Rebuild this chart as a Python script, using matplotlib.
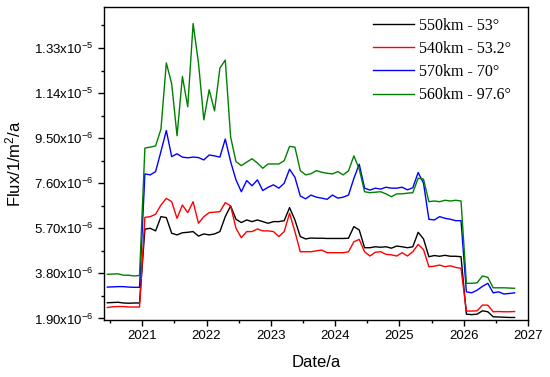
import numpy as np
import matplotlib
matplotlib.use('Agg')
import matplotlib.pyplot as plt
from matplotlib.ticker import FixedLocator, FuncFormatter, MultipleLocator

plt.rcParams['font.family'] = ['Liberation Sans', 'DejaVu Sans']
plt.rcParams['mathtext.fontset'] = 'custom'
plt.rcParams['mathtext.rm'] = 'Liberation Sans'
plt.rcParams['mathtext.it'] = 'Liberation Sans:italic'
plt.rcParams['mathtext.bf'] = 'Liberation Sans:bold'

# Thang 6/2020 den thang 10/2026, moi thang 1 diem (giua thang)
thang_bat_dau = 2020 * 12 + 5
so_thang = 77
thoigian = (thang_bat_dau + np.arange(so_thang) + 0.5) / 12.0

# Flux (don vi 1e-6 /m2/a)
flux_550 = [2.56, 2.57, 2.58, 2.55, 2.54, 2.55, 2.55,
            5.66, 5.70, 5.59, 6.19, 6.15, 5.49, 5.42, 5.51, 5.53, 5.56, 5.37, 5.46,
            5.42, 5.46, 5.56, 6.19, 6.64, 6.08, 5.94, 6.05, 5.98, 6.05, 5.98, 5.91,
            5.98, 5.98, 6.02, 6.57, 6.05, 5.35, 5.25, 5.29, 5.28, 5.28, 5.27, 5.27,
            5.27, 5.27, 5.28, 5.77, 5.63, 4.88, 4.88, 4.92, 4.90, 4.92, 4.86, 4.95,
            4.92, 4.88, 4.92, 5.53, 5.25, 4.50, 4.55, 4.52, 4.56, 4.52, 4.52, 4.50,
            2.08, 2.06, 2.08, 2.22, 2.18, 1.97, 1.96, 1.95, 1.94, 1.94]

flux_540 = [2.36, 2.39, 2.40, 2.40, 2.38, 2.38, 2.38,
            6.16, 6.19, 6.29, 6.68, 6.96, 6.82, 6.12, 6.68, 6.36, 6.82, 5.91, 6.19,
            6.36, 6.38, 6.40, 6.78, 6.64, 5.70, 5.30, 5.56, 5.56, 5.67, 5.59, 5.59,
            5.56, 5.35, 5.56, 6.33, 5.56, 4.71, 4.71, 4.71, 4.75, 4.78, 4.67, 4.67,
            4.67, 4.67, 4.71, 5.13, 5.23, 4.71, 4.53, 4.69, 4.71, 4.60, 4.58, 4.53,
            4.67, 4.53, 4.71, 5.02, 4.80, 4.08, 4.10, 4.15, 4.08, 4.12, 4.05, 4.01,
            2.21, 2.21, 2.22, 2.46, 2.46, 2.18, 2.19, 2.18, 2.18, 2.19]

flux_570 = [3.22, 3.23, 3.24, 3.24, 3.22, 3.21, 3.21,
            7.99, 7.95, 8.09, 8.94, 9.82, 8.72, 8.84, 8.70, 8.67, 8.70, 8.68, 8.58,
            8.79, 8.75, 8.70, 9.46, 8.51, 7.74, 7.24, 7.71, 7.49, 7.74, 7.29, 7.43,
            7.53, 7.39, 7.60, 8.19, 7.85, 7.06, 6.94, 7.10, 7.01, 6.97, 6.92, 7.10,
            6.97, 7.01, 7.10, 7.80, 8.40, 7.39, 7.31, 7.39, 7.35, 7.43, 7.39, 7.39,
            7.43, 7.32, 7.41, 8.05, 7.60, 6.08, 6.05, 6.19, 6.12, 6.08, 6.02, 6.02,
            3.02, 2.98, 3.09, 3.25, 3.38, 2.98, 3.02, 2.93, 2.95, 2.98]

flux_560 = [3.76, 3.77, 3.78, 3.72, 3.72, 3.69, 3.71,
            9.08, 9.12, 9.17, 9.88, 12.67, 11.79, 9.60, 12.10, 10.82, 14.33, 12.67, 10.27,
            11.54, 10.65, 12.45, 12.79, 9.55, 8.51, 8.34, 8.49, 8.63, 8.45, 8.23, 8.41,
            8.41, 8.41, 8.55, 9.15, 9.12, 8.13, 7.95, 8.00, 8.13, 8.06, 8.02, 7.99,
            8.09, 7.95, 8.12, 8.75, 8.20, 7.24, 7.20, 7.22, 7.24, 7.15, 7.03, 7.15,
            7.15, 7.18, 7.20, 7.81, 7.77, 6.82, 6.85, 6.82, 6.88, 6.85, 6.88, 6.85,
            3.38, 3.38, 3.40, 3.69, 3.63, 3.19, 3.19, 3.19, 3.18, 3.17]

nhan = ['550km - 53°', '540km - 53.2°', '570km - 70°', '560km - 97.6°']
mau = ['black', 'red', 'blue', 'green']

yticks = [1.90, 3.80, 5.70, 7.60, 9.50, 11.40, 13.30]
xticks = [2021, 2022, 2023, 2024, 2025, 2026, 2027]


def nhan_truc_y(v, pos):
    # 1.90x10^-6 ... 1.33x10^-5
    if v >= 10:
        return r'%.2fx10$^{-5}$' % (v / 10.0)
    return r'%.2fx10$^{-6}$' % v


fig = plt.figure(figsize=(5.5, 3.77), dpi=100)
ax = fig.add_axes([0.189, 0.151, 0.771, 0.830])

for duong, ten, c in zip([flux_550, flux_540, flux_570, flux_560], nhan, mau):
    ax.plot(thoigian, duong, color=c, lw=1.0, label=ten)

ax.set_xlim(2020.405, 2027)
ax.set_ylim(1.83, 15.02)
ax.xaxis.set_major_locator(FixedLocator(xticks))
ax.xaxis.set_minor_locator(MultipleLocator(0.5))
ax.yaxis.set_major_locator(FixedLocator(yticks))
ax.yaxis.set_minor_locator(MultipleLocator(0.95))
ax.yaxis.set_major_formatter(FuncFormatter(nhan_truc_y))
ax.tick_params(which='major', direction='out', length=4, width=1, labelsize=9.5)
ax.tick_params(which='minor', direction='out', length=2.5, width=1)
for s in ax.spines.values():
    s.set_linewidth(1)

ax.set_xlabel('Date/a', fontsize=12, labelpad=9)
ax.set_ylabel('Flux/1/m$^2$/a', fontsize=12, labelpad=8)

ax.legend(loc='upper right', frameon=False, handlelength=2.6,
          prop={'family': 'Liberation Serif', 'size': 11.5},
          labelspacing=0.45, borderaxespad=0.25, handletextpad=0.3,
          bbox_to_anchor=(0.985, 1.0))

fig.savefig('out.png', dpi=100)
